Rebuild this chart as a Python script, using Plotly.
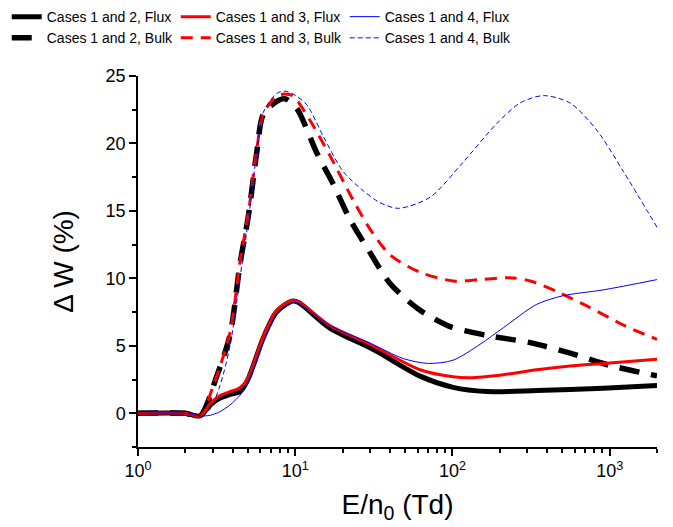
import plotly.graph_objects as go

# ---- data (E/n0 in Td, Delta W in %) ----
x_flux12 = [1, 1.5, 2, 2.48, 2.87, 3.3, 3.85, 4.45, 5.0, 6.27, 7.6, 9.5, 10.5, 16.6, 29.9, 34.6, 62.2, 101, 165, 344, 912, 2000]
y_flux12 = [0, 0.02, 0.0, -0.2, 0.6, 1.1, 1.4, 1.6, 2.5, 5.6, 7.5, 8.3, 8.2, 6.3, 4.85, 4.45, 2.75, 1.92, 1.61, 1.68, 1.85, 2.05]

x_flux13 = [1, 1.5, 2, 2.48, 2.87, 3.3, 3.85, 4.45, 5.0, 6.27, 7.6, 9.5, 10.5, 16.6, 29.9, 62.2, 101, 129, 211, 344, 560, 912, 2000]
y_flux13 = [0, 0.02, 0.0, -0.2, 0.7, 1.3, 1.6, 1.9, 2.6, 5.7, 7.6, 8.35, 8.25, 6.5, 5.1, 3.22, 2.70, 2.63, 2.86, 3.22, 3.5, 3.69, 4.0]

x_flux14 = [1, 1.5, 2, 2.48, 2.87, 3.3, 3.85, 4.45, 5.0, 6.27, 7.6, 9.7, 10.5, 16.6, 29.9, 48.7, 70.3, 101, 150, 211, 344, 508, 912, 2000]
y_flux14 = [0, 0.02, 0.0, -0.2, -0.15, 0.1, 0.62, 1.33, 2.3, 5.3, 7.3, 8.2, 8.15, 6.5, 5.2, 4.05, 3.69, 3.93, 5.11, 6.34, 8.07, 8.71, 9.14, 9.9]

x_bulk12 = [1, 1.5, 2, 2.48, 3.17, 3.85, 4.45, 5.03, 5.69, 6.27, 7.63, 8.6, 10.2, 13.7, 17.5, 22.3, 29.9, 40.1, 60.7, 96.6, 169, 312, 560, 982, 2000]
y_bulk12 = [0, 0.02, 0.0, -0.2, 2.75, 5.82, 11.03, 14.58, 19.3, 22.16, 23.1, 23.3, 22.6, 19.3, 16.95, 14.35, 11.9, 9.61, 7.72, 6.42, 5.75, 5.23, 4.45, 3.57, 2.77]

x_bulk13 = [1, 1.5, 2, 2.48, 3.01, 3.85, 4.45, 5.03, 5.69, 6.27, 7.63, 8.6, 9.7, 12.4, 16.6, 23.4, 29.9, 40.1, 62.2, 101, 150, 232, 312, 461, 715, 1224, 2000]
y_bulk13 = [0, 0.02, 0.0, -0.2, 2.04, 6.0, 11.2, 14.8, 19.5, 22.2, 23.5, 23.65, 23.5, 21.7, 19.1, 15.77, 13.64, 11.74, 10.44, 9.8, 9.9, 10.04, 9.8, 9.02, 7.95, 6.53, 5.47]

x_bulk14 = [1, 1.5, 2, 2.48, 2.87, 3.32, 3.85, 4.45, 5.03, 5.69, 6.27, 7.63, 8.61, 9.5, 11.8, 15.1, 20.2, 27.1, 34.6, 45.3, 72.0, 117, 191, 269, 379, 560, 828, 1224, 2000]
y_bulk14 = [0, 0.02, 0.0, -0.2, 0.3, 2.04, 5.0, 10.0, 14.3, 19.3, 22.3, 23.7, 23.86, 23.7, 22.87, 20.5, 17.9, 16.48, 15.6, 15.18, 16.0, 18.6, 21.45, 22.98, 23.53, 22.98, 20.97, 17.9, 13.78]

names = ["Cases 1 and 2, Flux", "Cases 1 and 3, Flux", "Cases 1 and 4, Flux",
         "Cases 1 and 2, Bulk", "Cases 1 and 3, Bulk", "Cases 1 and 4, Bulk"]

x_major = [1, 10, 100, 1000]
x_major_text = ["10<sup>0</sup>", "10<sup>1</sup>", "10<sup>2</sup>", "10<sup>3</sup>"]
x_minor = [m * 10 ** d for d in range(4) for m in range(2, 10) if m * 10 ** d <= 2000]
y_major = [0, 5, 10, 15, 20, 25]

series = [
    (x_flux12, y_flux12, dict(color="black", width=5, dash="solid")),
    (x_flux13, y_flux13, dict(color="#ff0000", width=3, dash="solid")),
    (x_flux14, y_flux14, dict(color="#0000ff", width=1, dash="solid")),
    (x_bulk12, y_bulk12, dict(color="black", width=5.5, dash="20px,12px")),
    (x_bulk13, y_bulk13, dict(color="#ff0000", width=3, dash="12px,8px")),
    (x_bulk14, y_bulk14, dict(color="#0000ff", width=1, dash="5px,3px")),
]

fig = go.Figure()
order = [3, 4, 5, 0, 1, 2]  # draw bulk first, flux on top
for i in order:
    xs, ys, ln = series[i]
    fig.add_trace(go.Scatter(x=xs, y=ys, mode="lines", name=names[i],
                             line=dict(shape="spline", smoothing=0.8, **ln),
                             legendrank=i + 1))

font_family = "Liberation Sans, Arial, sans-serif"
fig.update_layout(
    width=673, height=527,
    margin=dict(l=138, r=16, t=60, b=80),
    paper_bgcolor="white", plot_bgcolor="white",
    font=dict(family=font_family, color="black"),
    legend=dict(orientation="h", xref="container", yref="container",
                x=0.01, y=0.998, xanchor="left", yanchor="top",
                entrywidth=124, entrywidthmode="pixels",
                font=dict(size=14, family=font_family), tracegroupgap=0,
                bgcolor="rgba(0,0,0,0)", itemwidth=30, traceorder="normal"),
    showlegend=True,
)
fig.update_xaxes(type="log", range=[0, 3.30103], showgrid=False, zeroline=False,
                 showline=True, linecolor="black", linewidth=1.5, mirror=False,
                 ticks="outside", ticklen=7, tickwidth=1.5, tickcolor="black",
                 tickvals=x_major, ticktext=x_major_text,
                 tickfont=dict(size=18),
                 minor=dict(tickvals=x_minor, ticks="outside", ticklen=4,
                            tickwidth=1.5, tickcolor="black", showgrid=False),
                 title=dict(text="E/n<sub>0</sub> (Td)", font=dict(size=28), standoff=14))
fig.update_yaxes(range=[-2.5, 25], showgrid=False, zeroline=False,
                 showline=True, linecolor="black", linewidth=1.5, mirror=False,
                 ticks="outside", ticklen=7, tickwidth=1.5, tickcolor="black",
                 tickvals=y_major, tickfont=dict(size=18),
                 minor=dict(dtick=2.5, tick0=0, ticks="outside", ticklen=4,
                            tickwidth=1.5, tickcolor="black", showgrid=False),
                 title=dict(text="\u0394 W (%)", font=dict(size=28), standoff=24))

fig.write_html("out.html")
